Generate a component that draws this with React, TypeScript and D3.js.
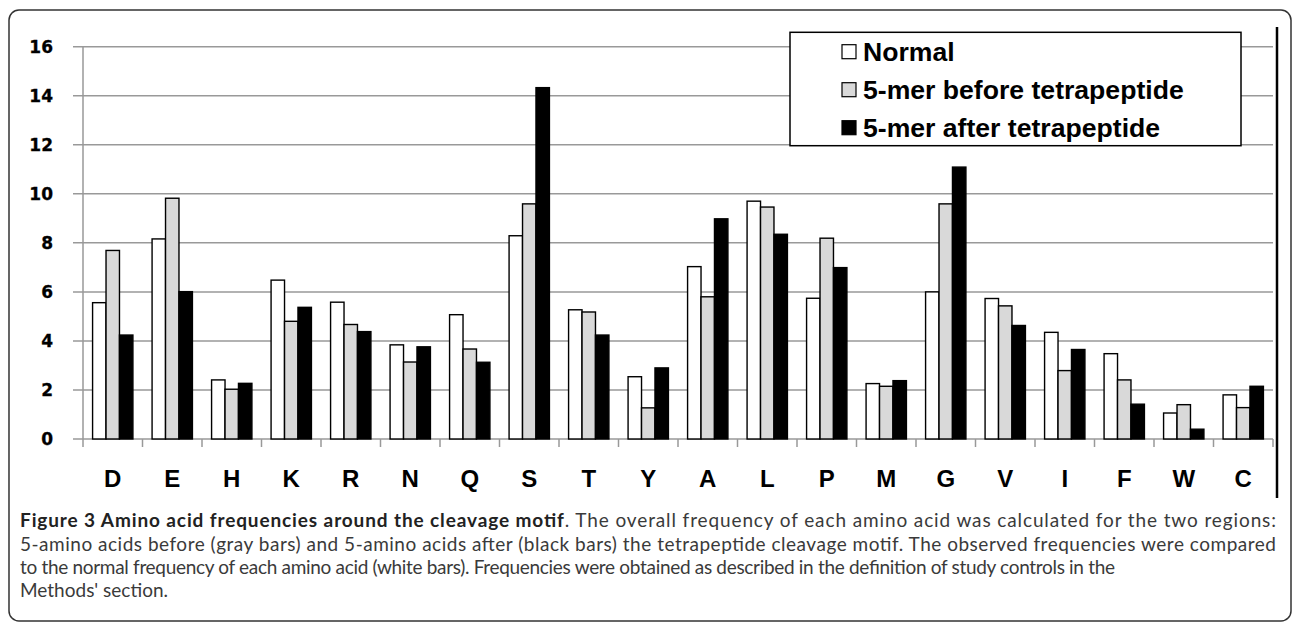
import * as d3 from "d3";

// amino acids along the x axis
const acids = ["D", "E", "H", "K", "R", "N", "Q", "S", "T", "Y", "A", "L", "P", "M", "G", "V", "I", "F", "W", "C"];
const seriesNames = ["Normal", "5-mer before tetrapeptide", "5-mer after tetrapeptide"];
const normal = [5.56, 8.16, 2.41, 6.48, 5.58, 3.84, 5.07, 8.29, 5.27, 2.54, 7.03, 9.70, 5.74, 2.26, 6.0, 5.73, 4.35, 3.48, 1.06, 1.8];
const before = [7.69, 9.82, 2.03, 4.8, 4.67, 3.14, 3.67, 9.59, 5.18, 1.27, 5.8, 9.46, 8.19, 2.15, 9.59, 5.43, 2.79, 2.41, 1.4, 1.28];
const after = [4.24, 6.01, 2.27, 5.37, 4.38, 3.76, 3.13, 14.33, 4.24, 2.9, 8.98, 8.35, 6.99, 2.38, 11.09, 4.63, 3.65, 1.42, 0.4, 2.15];
const yTicks = [0, 2, 4, 6, 8, 10, 12, 14, 16];
const fills = ["#ffffff", "#d9d9d9", "#000000"];

const captionLines = [
  "5-amino acids before (gray bars) and 5-amino acids after (black bars) the tetrapeptide cleavage motif. The observed frequencies were compared",
  "to the normal frequency of each amino acid (white bars). Frequencies were obtained as described in the definition of study controls in the",
  "Methods' section.",
];

const W = 1292;
const H = 622;
const plot = { left: 83, right: 1273, top: 46.7, bottom: 439 };

export default function App() {
  const values = [normal, before, after];

  const x = d3.scaleBand<string>().domain(acids).range([plot.left, plot.right]).padding(0);
  const groupW = x.bandwidth() * 0.678;
  const x1 = d3.scaleBand<number>().domain([0, 1, 2]).range([0, groupW]).padding(0);
  const y = d3.scaleLinear().domain([0, 16]).range([plot.bottom, plot.top]);

  const bold = "'Liberation Sans', Arial, sans-serif";

  return (
    <div style={{ position: "absolute", left: 0, top: 0 }}>
      <svg width={W} height={H} style={{ display: "block" }}>
        <rect x={0} y={0} width={W} height={H} fill="#fff" />
        <rect x={9} y={10} width={1282} height={611} rx={10} fill="none" stroke="#333" strokeWidth={1.5} />

        {/* gridlines */}
        {yTicks.map((t) => (
          <g key={t}>
            <line x1={plot.left - 10} x2={plot.right} y1={y(t)} y2={y(t)} stroke="#999" strokeWidth={1.5} />
            <text
              x={53}
              y={y(t)}
              dy="0.36em"
              textAnchor="end"
              fontFamily="'DejaVu Sans', sans-serif"
              fontWeight="bold"
              fontSize={17}
              fill="#000"
              stroke="#000"
              strokeWidth={0.3}
            >
              {t}
            </text>
          </g>
        ))}
        <line x1={plot.left} x2={plot.left} y1={plot.top} y2={plot.bottom} stroke="#999" strokeWidth={1.5} />

        {/* category ticks */}
        {[...acids.map((a) => x(a)!), plot.right].map((p, i) => (
          <line key={i} x1={p} x2={p} y1={plot.bottom} y2={plot.bottom + 8} stroke="#999" strokeWidth={1.5} />
        ))}

        {/* bars */}
        {acids.map((a, i) => (
          <g key={a} transform={`translate(${x(a)! + (x.bandwidth() - groupW) / 2},0)`}>
            {values.map((vals, s) => (
              <rect
                key={s}
                x={x1(s)}
                y={y(vals[i])}
                width={x1.bandwidth()}
                height={y(0) - y(vals[i])}
                fill={fills[s]}
                stroke="#000"
                strokeWidth={1.4}
              />
            ))}
          </g>
        ))}

        {/* category labels */}
        {acids.map((a) => (
          <text
            key={a}
            x={x(a)! + x.bandwidth() / 2}
            y={487}
            textAnchor="middle"
            fontFamily={bold}
            fontWeight="bold"
            fontSize={24}
          >
            {a}
          </text>
        ))}

        {/* right edge line */}
        <line x1={1277} x2={1277} y1={27} y2={498} stroke="#000" strokeWidth={2.5} />

        {/* legend */}
        <rect x={790} y={32.3} width={451} height={113.4} fill="#fff" stroke="#000" strokeWidth={1.5} />
        {seriesNames.map((n, s) => (
          <g key={n} transform={`translate(842,${51.7 + s * 38})`}>
            <rect x={0} y={-7} width={14} height={14} fill={fills[s]} stroke="#000" strokeWidth={1.2} />
            <text x={21} y={0} dy="0.36em" fontFamily={bold} fontWeight="bold" fontSize={26.6}>
              {n}
            </text>
          </g>
        ))}

        {/* caption */}
        <g fontFamily="Lato, 'Open Sans', sans-serif" fontSize={19} fill="#3a3a3a">
          <text x={20} y={527} textLength={1256} lengthAdjust="spacing">
            <tspan fontWeight="bold" fill="#222">
              Figure 3 Amino acid frequencies around the cleavage motif
            </tspan>
            <tspan>. The overall frequency of each amino acid was calculated for the two regions:</tspan>
          </text>
          <text x={20} y={550.5} textLength={1256} lengthAdjust="spacing">
            {captionLines[0]}
          </text>
          <text x={20} y={573.5} textLength={1095} lengthAdjust="spacing">
            {captionLines[1]}
          </text>
          <text x={20} y={596.5}>
            {captionLines[2]}
          </text>
        </g>
      </svg>
    </div>
  );
}
